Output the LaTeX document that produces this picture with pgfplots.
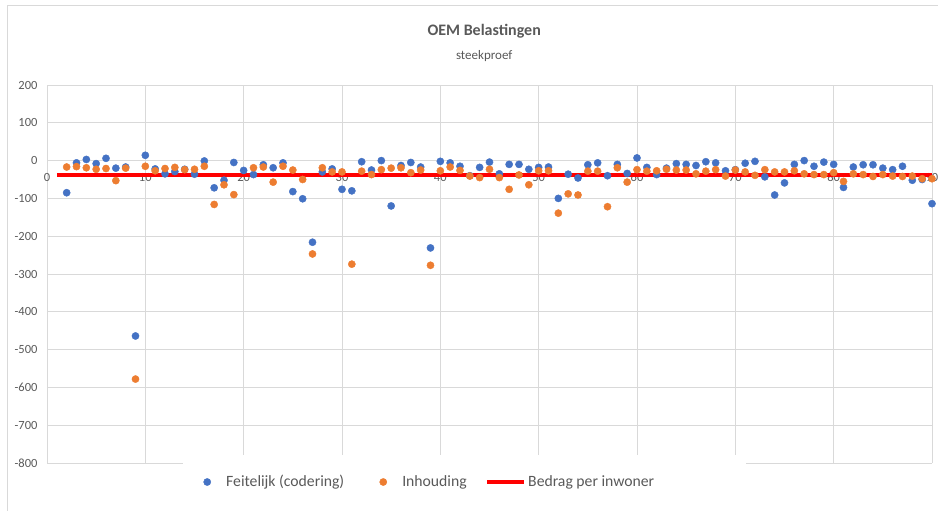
\documentclass[border=0pt]{standalone}
\usepackage{pgfplots}
\pgfplotsset{compat=1.18}
\usepackage{pgfplotstable}
\usepackage{fontspec}
\setmainfont{Carlito}
\definecolor{xlblue}{HTML}{4472C4}
\definecolor{xlorange}{HTML}{ED7D31}
\definecolor{xlgrid}{HTML}{D9D9D9}
\definecolor{xltext}{HTML}{595959}

\pgfplotsset{
  dotlegend/.style={legend image code/.code={\path[draw=none,fill=none] (0pt,-3pt) (37pt,3pt); \draw[##1] plot coordinates {(20pt,0pt)};}},
  linelegend/.style={legend image code/.code={\draw[##1] (0pt,0pt) -- (37pt,0pt);}},
}

\pgfplotstableread{
x y
2 -85
3 -6
4 3
5 -8
6 6
7 -20
8 -17
9 -464
10 14
11 -22
12 -35
13 -29
14 -23
15 -36
16 -1
17 -72
18 -52
19 -5
20 -26
21 -37
22 -11
23 -19
24 -6
25 -82
26 -101
27 -216
28 -30
29 -22
30 -76
31 -80
32 -3
33 -25
34 0
35 -120
36 -13
37 -5
38 -17
39 -231
40 -2
41 -6
42 -15
43 -40
44 -18
45 -4
46 -35
47 -10
48 -10
49 -23
50 -18
51 -17
52 -100
53 -36
54 -46
55 -11
56 -6
57 -40
58 -10
59 -34
60 7
61 -18
62 -37
63 -20
64 -8
65 -10
66 -13
67 -3
68 -6
69 -27
70 -24
71 -7
72 -2
73 -43
74 -91
75 -59
76 -10
77 0
78 -15
79 -4
80 -10
81 -71
82 -17
83 -11
84 -11
85 -20
86 -24
87 -15
88 -52
89 -50
90 -114
}\feitelijk

\pgfplotstableread{
x y
2 -17
3 -16
4 -19
5 -23
6 -21
7 -53
8 -20
9 -578
10 -15
11 -27
12 -21
13 -18
14 -24
15 -23
16 -15
17 -116
18 -64
19 -90
21 -19
22 -17
23 -57
24 -15
25 -25
26 -50
27 -247
28 -19
29 -30
30 -30
31 -274
32 -28
33 -37
34 -24
35 -20
36 -19
37 -32
38 -25
39 -277
40 -27
41 -17
42 -26
43 -41
44 -45
45 -23
46 -45
47 -76
48 -38
49 -64
50 -27
51 -27
52 -139
53 -88
54 -91
55 -28
56 -28
57 -122
58 -19
59 -57
60 -24
61 -28
62 -27
63 -23
64 -25
65 -25
66 -35
67 -28
68 -24
69 -41
70 -25
71 -30
72 -39
73 -24
74 -30
75 -30
76 -27
77 -35
78 -37
79 -37
80 -32
81 -55
82 -35
83 -37
84 -42
85 -37
86 -41
87 -42
88 -41
89 -48
90 -48
}\inhouding

\begin{document}
\begin{tikzpicture}
\useasboundingbox (0pt,0pt) rectangle (938pt,511pt);
\draw[xlgrid, line width=1pt] (7pt,0pt) -- (7pt,505pt) -- (938pt,505pt);
\begin{axis}[
  at={(47pt,48pt)}, anchor=south west,
  scale only axis, width=885pt, height=378pt,
  xmin=0, xmax=90, ymin=-800, ymax=200,
  xtick={0,10,...,90}, ytick={-800,-700,...,200},
  grid=major, grid style={xlgrid, line width=0.9pt},
  axis x line*=middle, axis y line*=left,
  axis line style={xlgrid, line width=0.9pt, -},
  hide obscured x ticks=false,
  major tick length=0pt,
  tick style={draw=none},
  clip=false,
  ticklabel style={font=\fontsize{12.5}{14}\selectfont, text=xltext},
  /pgf/number format/assume math mode=true,
  xticklabel style={yshift=-9pt},
  yticklabel style={xshift=-6pt},
  legend columns=-1,
  legend style={at={(0.1537,-0.0503)}, anchor=west, fill=white, draw=none,
    inner xsep=4pt, inner ysep=19pt,
    font=\fontsize{15.7}{18}\selectfont, text=xltext,
    /tikz/every even column/.append style={column sep=17pt}},
]
\addplot[only marks, mark=*, mark size=3.6pt, xlblue, mark options={draw=xlblue, fill=xlblue}, dotlegend]
  table[x=x, y=y] {\feitelijk};
\addlegendentry{Feitelijk (codering)}
\addplot[only marks, mark=*, mark size=3.6pt, xlorange, mark options={draw=xlorange, fill=xlorange}, dotlegend]
  table[x=x, y=y] {\inhouding};
\addlegendentry{Inhouding}
\addplot[red, line width=3.5pt, linelegend]
  coordinates {(1,-38) (90,-38)};
\addlegendentry{Bedrag per inwoner\hspace*{86pt}}
\node[font=\fontsize{16}{19}\selectfont\bfseries, text=xltext] at (axis description cs:0.494,1.143) {OEM Belastingen};
\node[font=\fontsize{13}{15}\selectfont, text=xltext] at (axis description cs:0.494,1.077) {steekproef};
\end{axis}
\end{tikzpicture}
\end{document}
